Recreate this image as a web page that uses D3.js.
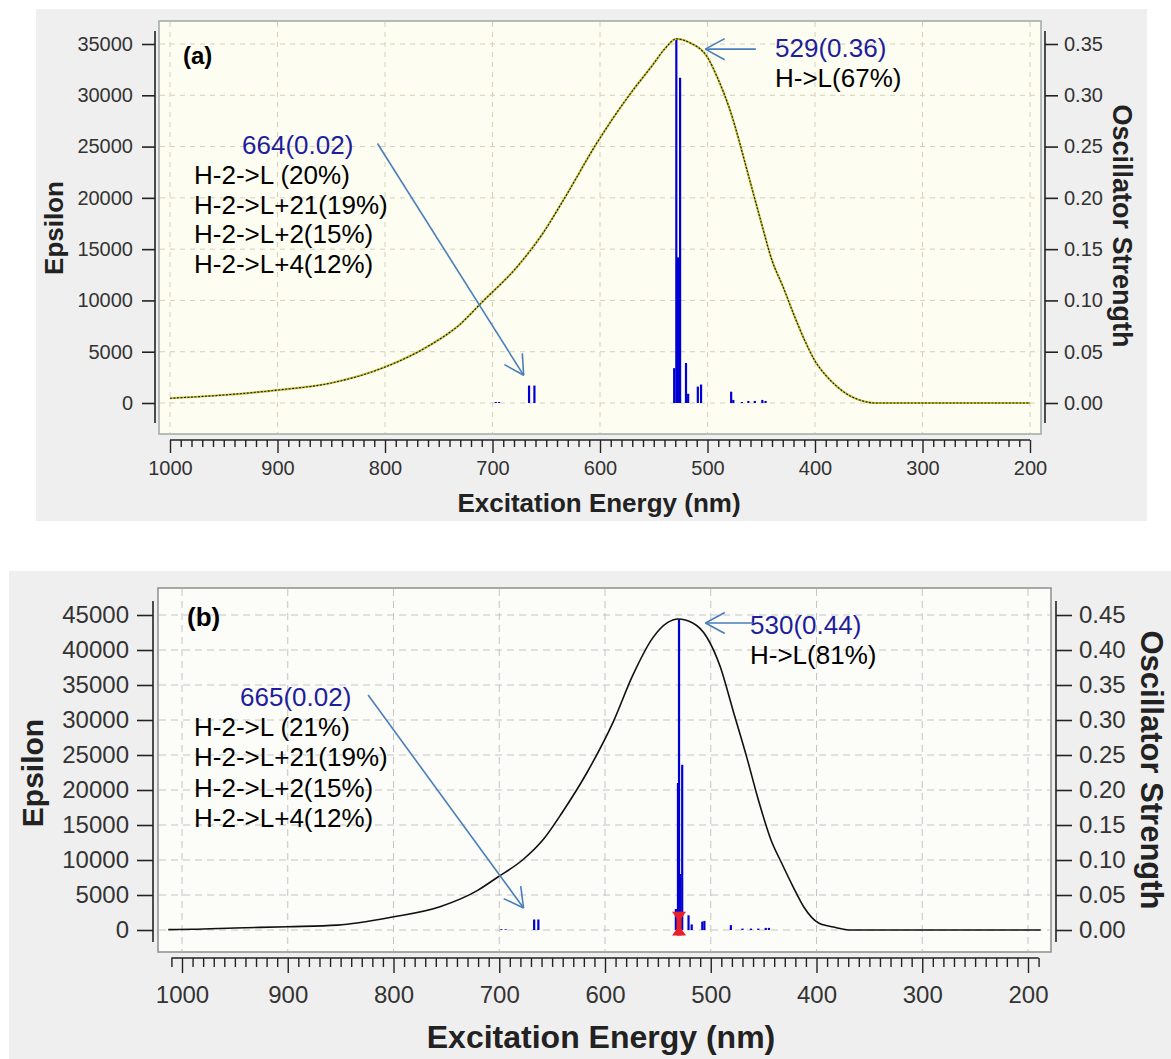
<!doctype html>
<html lang="en">
<head>
<meta charset="UTF-8">
<title>Simulated absorption spectra (a) and (b)</title>
<script src="https://cdn.jsdelivr.net/npm/d3@7"></script>
<style>
  body { margin: 0; background: #fff; }
  text { font-family: "Liberation Sans", Arial, sans-serif; }
</style>
</head>
<body>
<script>
// ---- data ----
var nmTicks = [1000, 900, 800, 700, 600, 500, 400, 300, 200];

// panel (a)
var epsTicksA = [0, 5000, 10000, 15000, 20000, 25000, 30000, 35000];
var oscTicksA = [0, 0.05, 0.10, 0.15, 0.20, 0.25, 0.30, 0.35];
var curveNmA = [1000, 950, 900, 850, 800, 758, 731, 710, 677, 653, 634, 603, 575, 550, 540, 529, 516, 500, 491, 480, 460, 450, 440, 430, 420, 410, 400, 390, 380, 370, 360, 350, 345, 200];
var curveEpsA = [460, 780, 1260, 1950, 3500, 5650, 7600, 9800, 13290, 16570, 19790, 25340, 29700, 33100, 34500, 35500, 35100, 33700, 31780, 28850, 21450, 17600, 13900, 11400, 8700, 6200, 4100, 2700, 1650, 850, 350, 60, 0, 0];
var stickNmA = [697, 694, 666, 661, 531, 529, 527.5, 526, 525.5, 520, 518, 509, 506, 478, 476, 468, 462, 456, 449, 446];
var stickOscA = [0.001, 0.001, 0.017, 0.017, 0.034, 0.355, 0.142, 0.034, 0.317, 0.039, 0.009, 0.016, 0.018, 0.011, 0.003, 0.001, 0.002, 0.002, 0.003, 0.002];
var noteA = ["H-2->L (20%)", "H-2->L+21(19%)", "H-2->L+2(15%)", "H-2->L+4(12%)"];
var noteHeadA = "664(0.02)";
var peakA = ["529(0.36)", "H->L(67%)"];
// arrows in data units: [nm, epsilon]
var arrowLowA = [[807, 25300], [671, 2700]];
var arrowPeakA = [[455, 34500], [502, 34500]];

// panel (b)
var epsTicksB = [0, 5000, 10000, 15000, 20000, 25000, 30000, 35000, 40000, 45000];
var oscTicksB = [0, 0.05, 0.10, 0.15, 0.20, 0.25, 0.30, 0.35, 0.40, 0.45];
var curveNmB = [1013, 990, 950, 900, 853, 801, 756, 720, 702, 678, 658, 640, 617, 592, 574, 555, 541, 531, 517, 504, 491, 479, 466, 455, 443, 433, 422, 412, 398, 384, 367, 188];
var curveEpsB = [50, 100, 280, 470, 700, 1860, 3330, 5700, 7500, 10000, 13000, 16900, 22500, 29800, 36300, 41700, 43900, 44430, 43860, 41900, 37600, 31400, 24700, 18600, 12860, 9570, 6140, 3290, 1000, 430, 0, 0];
var stickNmB = [698, 694, 667, 663, 533, 531, 530, 529, 527, 521, 518, 508, 506, 481, 470, 462, 455, 448, 445];
var stickOscB = [0.001, 0.001, 0.015, 0.015, 0.03, 0.21, 0.444, 0.08, 0.236, 0.021, 0.008, 0.012, 0.013, 0.007, 0.002, 0.002, 0.002, 0.003, 0.003];
var markerB = [530, -0.008, 0.026]; // nm, low, high
var noteB = ["H-2->L (21%)", "H-2->L+21(19%)", "H-2->L+2(15%)", "H-2->L+4(12%)"];
var noteHeadB = "665(0.02)";
var peakB = ["530(0.44)", "H->L(81%)"];
var arrowLowB = [[824, 33570], [677, 3140]];
var arrowPeakB = [[460, 43860], [505, 43860]];

// ---- drawing ----
var svg = d3.select("body").append("svg")
  .attr("width", 1171)
  .attr("height", 1059);

var arrowBlue = "#4a7ebb",
  labelBlue = "#1e1e9c",
  stickBlue = "#0000d2";

function arrow(g, p0, p1) {
  g.append("line")
    .attr("x1", p0[0]).attr("y1", p0[1])
    .attr("x2", p1[0]).attr("y2", p1[1])
    .attr("stroke", arrowBlue).attr("stroke-width", 1.6);
  var ang = Math.atan2(p0[1] - p1[1], p0[0] - p1[0]);
  [-0.5, 0.5].forEach(function(da) {
    g.append("line")
      .attr("x1", p1[0]).attr("y1", p1[1])
      .attr("x2", p1[0] + 22 * Math.cos(ang + da))
      .attr("y2", p1[1] + 22 * Math.sin(ang + da))
      .attr("stroke", arrowBlue).attr("stroke-width", 1.6);
  });
}

function panel(c) {
  var g = svg.append("g");

  g.append("rect")
    .attr("x", c.bg[0]).attr("y", c.bg[1])
    .attr("width", c.bg[2]).attr("height", c.bg[3])
    .attr("fill", "#efefef");

  g.append("rect")
    .attr("x", c.frame[0]).attr("y", c.frame[1])
    .attr("width", c.frame[2]).attr("height", c.frame[3])
    .attr("fill", c.plotFill)
    .attr("stroke", c.frameStroke)
    .attr("stroke-width", 1.5);

  var x = d3.scaleLinear().domain([1000, 200]).range(c.xRange);
  var yL = d3.scaleLinear().domain([0, c.epsTicks[c.epsTicks.length - 1]]).range(c.yRange);
  var yR = d3.scaleLinear().domain([0, c.oscTicks[c.oscTicks.length - 1]]).range(c.yRange);

  // dashed grid
  g.selectAll(".vgrid").data(nmTicks).enter().append("line")
    .attr("x1", function(d) { return x(d); })
    .attr("x2", function(d) { return x(d); })
    .attr("y1", c.frame[1] + 1).attr("y2", c.frame[1] + c.frame[3] - 1)
    .attr("stroke", c.gridColor).attr("stroke-dasharray", c.gridDash);
  g.selectAll(".hgrid").data(c.epsTicks).enter().append("line")
    .attr("x1", c.frame[0] + 1).attr("x2", c.frame[0] + c.frame[2] - 1)
    .attr("y1", function(d) { return yL(d); })
    .attr("y2", function(d) { return yL(d); })
    .attr("stroke", c.gridColor).attr("stroke-dasharray", c.gridDash);

  // oscillator sticks
  g.selectAll(".stick").data(c.stickNm).enter().append("line")
    .attr("x1", function(d) { return x(d); })
    .attr("x2", function(d) { return x(d); })
    .attr("y1", yR(0))
    .attr("y2", function(d, i) { return yR(c.stickOsc[i]); })
    .attr("stroke", stickBlue)
    .attr("stroke-width", 2.2);

  if (c.marker) {
    var mx = x(c.marker[0]), lo = yR(c.marker[1]), hi = yR(c.marker[2]);
    g.append("line")
      .attr("x1", mx).attr("x2", mx).attr("y1", lo).attr("y2", hi)
      .attr("stroke", "#e8202a").attr("stroke-width", 5);
    g.append("path")
      .attr("d", "M" + (mx - 7) + "," + hi + "H" + (mx + 7) + "L" + mx + "," + (hi + 10) + "Z")
      .attr("fill", "#e8202a");
    g.append("path")
      .attr("d", "M" + (mx - 7) + "," + lo + "H" + (mx + 7) + "L" + mx + "," + (lo - 10) + "Z")
      .attr("fill", "#e8202a");
  }

  // epsilon curve
  var line = d3.line()
    .curve(d3.curveMonotoneX)
    .x(function(d, i) { return x(c.curveNm[i]); })
    .y(function(d) { return yL(d); });
  if (c.yellow) {
    g.append("path").datum(c.curveEps)
      .attr("d", line).attr("fill", "none")
      .attr("stroke", "#c9c23a").attr("stroke-width", 2.2);
    g.append("path").datum(c.curveEps)
      .attr("d", line).attr("fill", "none")
      .attr("stroke", "#1a1a10").attr("stroke-width", 1.1)
      .attr("stroke-dasharray", "2,1.5");
  } else {
    g.append("path").datum(c.curveEps)
      .attr("d", line).attr("fill", "none")
      .attr("stroke", "#111").attr("stroke-width", 1.6);
  }

  // bottom axis: minor ticks every 10 nm, labels at 100 nm
  var minor = d3.range(c.minor[0], c.minor[1] + 1, 10);
  var xAxis = d3.axisBottom(x)
    .tickValues(minor)
    .tickSize(c.minorLen)
    .tickSizeOuter(0)
    .tickPadding(c.xPad)
    .tickFormat(function(d) { return nmTicks.indexOf(d) >= 0 ? d : ""; });
  var gx = g.append("g")
    .attr("transform", "translate(0," + c.xAxisY + ")")
    .call(xAxis);
  gx.select(".domain").remove();
  gx.selectAll(".tick line").attr("stroke", "#222").attr("stroke-width", 1.4);
  gx.selectAll(".tick line").filter(function(d) { return nmTicks.indexOf(d) >= 0; })
    .attr("y2", c.majorLen);
  gx.selectAll(".tick text")
    .attr("font-family", "Liberation Sans, Arial, sans-serif")
    .attr("font-size", c.tickFont).attr("fill", "#333");
  gx.append("line")
    .attr("x1", x(minor[0])).attr("x2", x(minor[minor.length - 1]))
    .attr("stroke", "#222").attr("stroke-width", 1.4);

  // left epsilon axis
  var gl = g.append("g")
    .attr("transform", "translate(" + c.leftX + ",0)")
    .call(d3.axisLeft(yL).tickValues(c.epsTicks).tickSize(c.yTick).tickSizeOuter(0)
      .tickPadding(c.yPadL).tickFormat(d3.format("d")));
  gl.select(".domain").remove();
  gl.append("line").attr("y1", c.axisSpan[0]).attr("y2", c.axisSpan[1])
    .attr("stroke", "#222").attr("stroke-width", 1.6);

  // right oscillator axis
  var gr = g.append("g")
    .attr("transform", "translate(" + c.rightX + ",0)")
    .call(d3.axisRight(yR).tickValues(c.oscTicks).tickSize(c.yTick).tickSizeOuter(0)
      .tickPadding(c.yPadR).tickFormat(d3.format(".2f")));
  gr.select(".domain").remove();
  gr.append("line").attr("y1", c.axisSpan[0]).attr("y2", c.axisSpan[1])
    .attr("stroke", "#222").attr("stroke-width", 1.6);

  [gl, gr].forEach(function(a) {
    a.selectAll(".tick line").attr("stroke", "#222").attr("stroke-width", 1.6);
    a.selectAll(".tick text")
      .attr("font-family", "Liberation Sans, Arial, sans-serif")
      .attr("font-size", c.tickFont).attr("fill", "#333");
  });

  // axis titles
  g.append("text")
    .attr("x", c.xTitle[0]).attr("y", c.xTitle[1])
    .attr("text-anchor", "middle")
    .attr("font-size", c.xTitle[2]).attr("font-weight", "bold").attr("fill", "#222")
    .text("Excitation Energy (nm)");
  g.append("text")
    .attr("transform", "translate(" + c.epsTitle[0] + "," + c.epsTitle[1] + ") rotate(-90)")
    .attr("text-anchor", "middle")
    .attr("font-size", c.epsTitle[2]).attr("font-weight", "bold").attr("fill", "#222")
    .text("Epsilon");
  g.append("text")
    .attr("transform", "translate(" + c.oscTitle[0] + "," + c.oscTitle[1] + ") rotate(90)")
    .attr("text-anchor", "middle")
    .attr("font-size", c.oscTitle[2]).attr("font-weight", "bold").attr("fill", "#222")
    .text("Oscillator Strength");

  g.append("text")
    .attr("x", c.tag[1]).attr("y", c.tag[2])
    .attr("font-size", c.tag[3]).attr("font-weight", "bold").attr("fill", "#000")
    .text(c.tag[0]);

  // annotations
  g.append("text")
    .attr("x", c.headPos[0]).attr("y", c.headPos[1])
    .attr("font-size", 26).attr("fill", labelBlue)
    .text(c.noteHead);
  g.selectAll(".note").data(c.notes).enter().append("text")
    .attr("x", c.notePos[0])
    .attr("y", function(d, i) { return c.notePos[1] + i * c.noteStep; })
    .attr("font-size", 26).attr("fill", "#000")
    .text(function(d) { return d; });
  g.append("text")
    .attr("x", c.peakPos[0]).attr("y", c.peakPos[1])
    .attr("font-size", 26).attr("fill", labelBlue)
    .text(c.peak[0]);
  g.append("text")
    .attr("x", c.peakPos[0]).attr("y", c.peakPos[1] + 30)
    .attr("font-size", 26).attr("fill", "#000")
    .text(c.peak[1]);

  function pt(p) { return [x(p[0]), yL(p[1])]; }
  arrow(g, pt(c.arrowLow[0]), pt(c.arrowLow[1]));
  arrow(g, pt(c.arrowPeak[0]), pt(c.arrowPeak[1]));
}

panel({
  bg: [36, 9, 1111, 512],
  frame: [159, 21, 882, 413],
  plotFill: "#fdfdf2",
  frameStroke: "#9ea8a6",
  gridColor: "#d4d0b8",
  gridDash: "5,5",
  xRange: [170, 1030],
  yRange: [403, 44],
  epsTicks: epsTicksA,
  oscTicks: oscTicksA,
  curveNm: curveNmA,
  curveEps: curveEpsA,
  stickNm: stickNmA,
  stickOsc: stickOscA,
  yellow: true,
  minor: [200, 1000],
  xAxisY: 440,
  minorLen: 7,
  majorLen: 13,
  xPad: 14,
  tickFont: 20,
  leftX: 155,
  rightX: 1045,
  axisSpan: [31, 423],
  yTick: 13,
  yPadL: 9,
  yPadR: 6,
  xTitle: [599, 512, 26],
  epsTitle: [63, 228, 26],
  oscTitle: [1113, 226, 27],
  tag: ["(a)", 183, 64, 24],
  noteHead: noteHeadA,
  headPos: [242, 154],
  notes: noteA,
  notePos: [194, 184],
  noteStep: 29.5,
  peak: peakA,
  peakPos: [775, 57],
  arrowLow: arrowLowA,
  arrowPeak: arrowPeakA
});

panel({
  bg: [9, 571, 1162, 488],
  frame: [158, 588, 893, 364],
  plotFill: "#fcfcf8",
  frameStroke: "#8e8e8e",
  gridColor: "#c4c4c4",
  gridDash: "7,5",
  xRange: [182, 1028],
  yRange: [930, 615],
  epsTicks: epsTicksB,
  oscTicks: oscTicksB,
  curveNm: curveNmB,
  curveEps: curveEpsB,
  stickNm: stickNmB,
  stickOsc: stickOscB,
  marker: markerB,
  yellow: false,
  minor: [190, 1010],
  xAxisY: 958,
  minorLen: 9,
  majorLen: 15,
  xPad: 19,
  tickFont: 24,
  leftX: 153,
  rightX: 1056,
  axisSpan: [601, 942],
  yTick: 16,
  yPadL: 8,
  yPadR: 7,
  xTitle: [601, 1048, 32],
  epsTitle: [43, 773, 30],
  oscTitle: [1141, 770, 31],
  tag: ["(b)", 187, 626, 26],
  noteHead: noteHeadB,
  headPos: [240, 706],
  notes: noteB,
  notePos: [194, 736],
  noteStep: 30.3,
  peak: peakB,
  peakPos: [750, 634],
  arrowLow: arrowLowB,
  arrowPeak: arrowPeakB
});
</script>
</body>
</html>
